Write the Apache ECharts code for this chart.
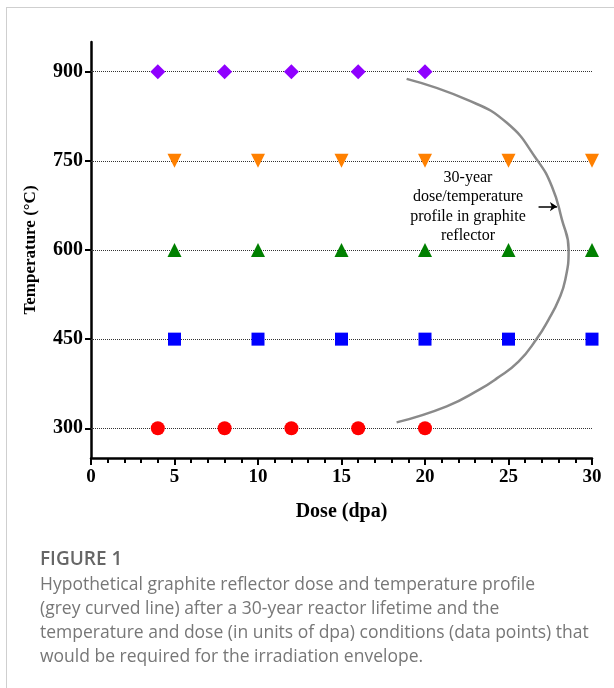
<!DOCTYPE html>
<html>
<head>
<meta charset="utf-8">
<script src="https://cdn.jsdelivr.net/npm/echarts@6/dist/echarts.min.js"></script>
<style>
  html, body { margin: 0; padding: 0; background: #fff; }
  #wrap { position: absolute; left: 6px; top: 7px; width: 608px; height: 681px;
          border-left: 1px solid #cfcfcf; border-top: 1px solid #cfcfcf; }
  #chart { position: absolute; left: 0; top: 0; width: 614px; height: 688px; }
  #caption { position: absolute; left: 40px; top: 546px; color: #777;
             font-family: "Open Sans", sans-serif; font-size: 17.5px; line-height: 24px; }
  #caption .fig { font-weight: 600; font-size: 19px; color: #666; margin-bottom: 1px; }
</style>
</head>
<body>
<div id="wrap"></div>
<div id="chart"></div>
<div id="caption">
  <div class="fig">FIGURE 1</div>
  Hypothetical graphite reflector dose and temperature profile<br>
  (grey curved line) after a 30-year reactor lifetime and the<br>
  temperature and dose (in units of dpa) conditions (data points) that<br>
  would be required for the irradiation envelope.
</div>
<script>
// irradiation conditions, dose (dpa) at each temperature (°C)
const dose900 = [4, 8, 12, 16, 20];
const dose750 = [5, 10, 15, 20, 25, 30];
const dose600 = [5, 10, 15, 20, 25, 30];
const dose450 = [5, 10, 15, 20, 25, 30];
const dose300 = [4, 8, 12, 16, 20];
const tempTicks = [300, 450, 600, 750, 900];

// 30-year profile: [dose, temperature]
const profile = [
  [18.9, 888], [22.5, 853], [24.9, 814], [26.7, 752], [27.6, 707],
  [28.2, 651], [28.6, 601], [28.4, 550], [28.0, 516], [27.4, 483],
  [26.7, 451], [25.6, 412], [24.3, 384], [23.3, 366], [21.3, 337],
  [18.3, 310]
];

const serif = '"Liberation Serif", "Times New Roman", serif';

function pointSeries(name, doses, temp, symbol, color, size, rotate) {
  return {
    name,
    type: 'scatter',
    symbol,
    symbolSize: size,
    symbolRotate: rotate || 0,
    itemStyle: { color, opacity: 1 },
    z: 5,
    data: doses.map(d => [d, temp]),
    markLine: {
      silent: true,
      symbol: 'none',
      label: { show: false },
      lineStyle: { type: 'dotted', color: '#333', width: 1 },
      data: [{ yAxis: temp }],
      z: 1,
    },
  };
}

const chart = echarts.init(document.getElementById('chart'));
chart.setOption({
  animation: false,
  grid: { left: 91, right: 22, top: 42, bottom: 230 },
  xAxis: {
    type: 'value',
    min: 0,
    max: 30,
    interval: 5,
    name: 'Dose (dpa)',
    nameLocation: 'middle',
    nameGap: 44,
    nameTextStyle: { fontFamily: serif, fontWeight: 'bold', fontSize: 20, color: '#000' },
    axisLine: { lineStyle: { color: '#000', width: 2.5 } },
    axisTick: { length: 7, lineStyle: { color: '#000', width: 2 } },
    minorTick: { show: true, splitNumber: 5, length: 5, lineStyle: { color: '#000', width: 2 } },
    axisLabel: { fontFamily: serif, fontWeight: 'bold', fontSize: 19, color: '#000', margin: 10 },
    splitLine: { show: false },
  },
  yAxis: {
    type: 'value',
    min: 250,
    max: 950,
    name: 'Temperature (°C)',
    nameLocation: 'middle',
    nameGap: 52,
    nameTextStyle: { fontFamily: serif, fontWeight: 'bold', fontSize: 17, color: '#000' },
    axisLine: { lineStyle: { color: '#000', width: 2.5 } },
    axisTick: { length: 6, customValues: tempTicks, lineStyle: { color: '#000', width: 2 } },
    axisLabel: { customValues: tempTicks, fontFamily: serif, fontWeight: 'bold', fontSize: 20, color: '#000', margin: 8 },
    splitLine: { show: false },
  },
  series: [
    pointSeries('900', dose900, 900, 'diamond', '#8f00ff', 15),
    pointSeries('750', dose750, 750, 'triangle', '#ff8000', 14, 180),
    pointSeries('600', dose600, 600, 'triangle', '#008000', 14),
    pointSeries('450', dose450, 450, 'rect', '#0000ff', 13),
    pointSeries('300', dose300, 300, 'circle', '#ff0000', 14),
    {
      name: 'profile',
      type: 'line',
      smooth: 0.5,
      symbol: 'none',
      lineStyle: { color: '#8a8a8a', width: 2.5 },
      data: profile,
      z: 3,
    },
    {
      name: 'arrow',
      type: 'line',
      symbol: 'none',
      lineStyle: { width: 0 },
      data: [],
      markLine: {
        silent: true,
        symbol: ['none', 'arrow'],
        symbolSize: 7,
        label: { show: false },
        lineStyle: { type: 'solid', color: '#000', width: 1.5 },
        data: [[{ coord: [26.8, 673] }, { coord: [27.9, 673] }]],
      },
    },
  ],
  graphic: [
    {
      type: 'text',
      x: 468,
      y: 168,
      style: {
        text: '30-year\ndose/temperature\nprofile in graphite\nreflector',
        fontFamily: serif,
        fontSize: 16,
        lineHeight: 19.5,
        fill: '#000',
        textAlign: 'center',
      },
    },
  ],
});
</script>
</body>
</html>
